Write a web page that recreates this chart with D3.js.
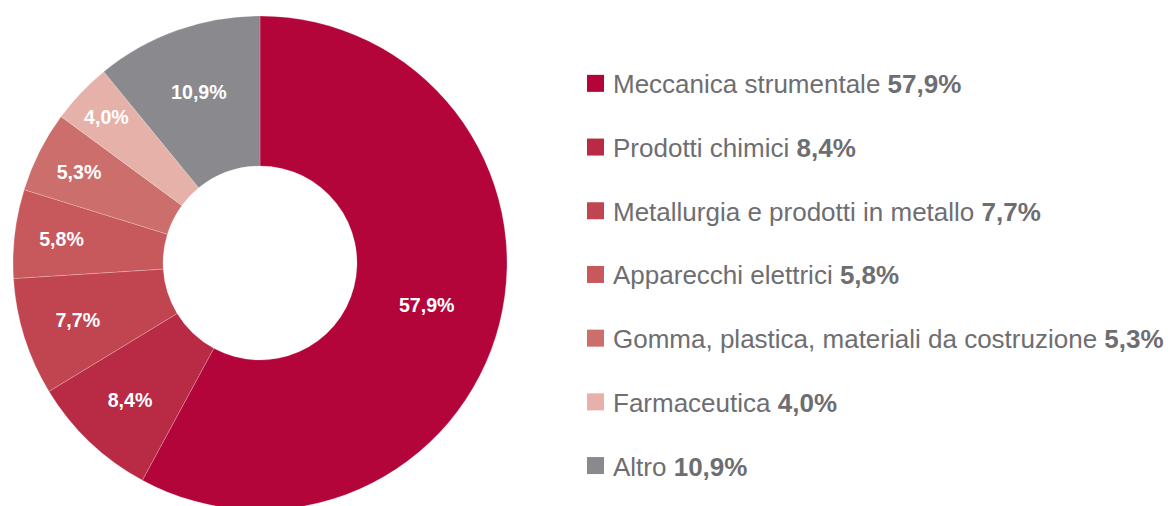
<!DOCTYPE html>
<html><head><meta charset="utf-8">
<script src="https://cdn.jsdelivr.net/npm/d3@7"></script>
<style>body{margin:0;background:#fff}svg{display:block}</style>
</head><body>
<svg id="c" width="1173" height="506"></svg>
<script>
const categories = ["Meccanica strumentale","Prodotti chimici","Metallurgia e prodotti in metallo","Apparecchi elettrici","Gomma, plastica, materiali da costruzione","Farmaceutica","Altro"];
const values = [57.9, 8.4, 7.7, 5.8, 5.3, 4.0, 10.9];
const colors = ["#b3053a","#b92a45","#c14550","#c7585c","#cc6e6b","#e6b1a9","#8a898e"];

const svg = d3.select("#c");
const cx = 260, cy = 263, R = 247, r0 = 97;
const fmt = v => d3.format(".1f")(v).replace(".", ",") + "%";
const data = categories.map((c,i)=>({c, v: values[i], col: colors[i]}));
const pie = d3.pie().value(d=>d.v).sort(null);
const arcs = pie(data);
const arc = d3.arc().innerRadius(r0).outerRadius(R);
// thin slices get their label pushed outward (best-fit style)
const labelR = v => 172 + 40 * Math.exp(-(v - 4) / 5);
const g = svg.append("g").attr("transform", `translate(${cx},${cy})`);
g.selectAll("path").data(arcs).join("path")
  .attr("d", arc).attr("fill", d=>d.data.col)
  .attr("stroke", "rgba(255,255,255,0.35)").attr("stroke-width", 0.6);
g.selectAll("text").data(arcs).join("text")
  .attr("transform", d=>{
    const rr = labelR(d.data.v);
    return `translate(${d3.arc().innerRadius(rr).outerRadius(rr).centroid(d)})`;
  })
  .attr("text-anchor","middle").attr("dy","0.36em")
  .attr("fill","#fff").attr("font-family","Liberation Sans, Arial, sans-serif")
  .attr("font-weight","bold").attr("font-size",19.6)
  .text(d=>fmt(d.data.v));

const ly = d3.scaleBand().domain(categories).range([52, 52+63.7*7]);
const lg = svg.append("g").attr("font-family","Liberation Sans, Arial, sans-serif").attr("font-size",26).attr("fill","#6e6e72");
const items = lg.selectAll("g").data(data).join("g")
  .attr("transform", d=>`translate(587,${ly(d.c)+ly.bandwidth()/2})`);
items.append("rect").attr("x",0).attr("y",-9).attr("width",17).attr("height",17).attr("fill",d=>d.col);
const t = items.append("text").attr("x",26).attr("y",9.5);
t.append("tspan").text(d=>d.c+" ");
t.append("tspan").attr("font-weight","bold").text(d=>fmt(d.v));
</script>
</body></html>
